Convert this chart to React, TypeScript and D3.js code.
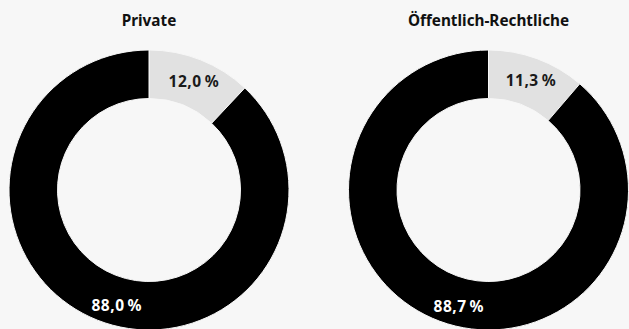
import React from "react";
import * as d3 from "d3";

const charts = ["Private", "Öffentlich-Rechtliche"];
const sliceNames = ["Ja", "Nein"];
const privateValues = [12.0, 88.0];
const publicValues = [11.3, 88.7];
const sliceColors = ["#e1e1e1", "#000000"];
const labelColors = ["#1a1a1a", "#ffffff"];

const W = 629;
const H = 329;
const BG = "#f7f7f7";

export default function App() {
  const seriesList = [privateValues, publicValues];
  const outerR = 140;
  const innerR = 91.5;
  const cx = d3.scalePoint<string>().domain(charts).range([149, 488.5]);
  const cy = 190;
  const pie = d3.pie<number>().sort(null).value((d) => d);
  const arc = d3.arc<d3.PieArcDatum<number>>().innerRadius(innerR).outerRadius(outerR);
  const fmt = (v: number) => d3.format(".1f")(v).replace(".", ",") + "\u2009%";

  return (
    <svg
      width={W}
      height={H}
      style={{ position: "absolute", left: 0, top: 0, display: "block", background: BG }}
      fontFamily="'Noto Sans', sans-serif"
    >
      <rect width={W} height={H} fill={BG} />
      {charts.map((name, ci) => {
        const arcs = pie(seriesList[ci]);
        const x0 = cx(name) as number;
        return (
          <g key={name}>
            <text x={x0} y={26} textAnchor="middle" fontWeight={700} fontSize={15.3} fill="#111">
              {name}
            </text>
            <g transform={`translate(${x0},${cy})`}>
              {arcs.map((a, i) => (
                <path key={sliceNames[i]} d={arc(a) as string} fill={sliceColors[i]} stroke={BG} strokeWidth={1} />
              ))}
              {arcs.map((a, i) => {
                const mid = (a.startAngle + a.endAngle) / 2;
                const shift = i === 0 ? 0.015 : -0.105;
                const r = i === 0 ? 117.5 : 120;
                const ang = mid + shift;
                const lx = r * Math.sin(ang);
                const ly = -r * Math.cos(ang);
                return (
                  <text
                    key={"l" + i}
                    x={lx}
                    y={ly}
                    dy="0.36em"
                    textAnchor="middle"
                    fontWeight={700}
                    fontSize={15.5}
                    letterSpacing={0.5}
                    fill={labelColors[i]}
                  >
                    {fmt(seriesList[ci][i])}
                  </text>
                );
              })}
            </g>
          </g>
        );
      })}
    </svg>
  );
}
